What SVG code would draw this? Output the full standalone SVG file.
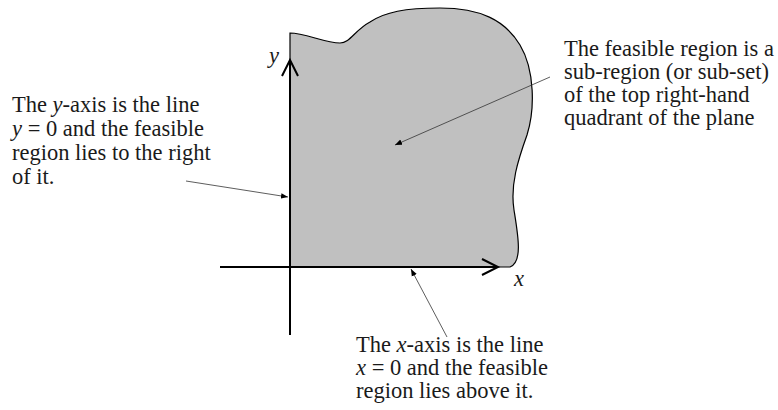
<svg xmlns="http://www.w3.org/2000/svg" width="778" height="410" viewBox="0 0 778 410">
<defs>
<style>
text{font-family:"Liberation Serif","Times New Roman",serif;font-size:22.5px;fill:#1a1a1a}
.i{font-style:italic}
.ax{stroke:#000;stroke-width:2;fill:none}
.ptr{stroke:#333;stroke-width:0.8;fill:none;marker-end:url(#ah)}
</style>
<marker id="ah" viewBox="0 0 10 10" refX="10" refY="5" markerWidth="7" markerHeight="7" markerUnits="userSpaceOnUse" orient="auto">
<path d="M0,1 L10,5 L0,9 Z" fill="#000"/>
</marker>
</defs>
<rect width="778" height="410" fill="#fff"/>
<g id="region">
<path d="M290,267 L290,33 C305,33 325,43 340,43 C350,43 355,30 370,22 C385,12 405,8 440,8 C480,8 505,20 520,45 C535,70 535,110 527,135 C518,160 510,185 514,210 C518,235 523,262 510,267 Z" fill="#c0c0c0" stroke="#000" stroke-width="1.2"/>
</g>
<g id="axes">
<path class="ax" d="M290,335 L290,60"/>
<path class="ax" d="M220,267 L497,267"/>
<path class="ax" d="M282,76 L290,60 L298,76"/>
<path class="ax" d="M482,259 L498,267 L482,275"/>
<text class="i" x="269" y="63">y</text>
<text class="i" x="514" y="286">x</text>
</g>
<g id="label-y">
<text x="12" y="112">The <tspan class="i">y</tspan>-axis is the line</text>
<text x="12" y="136"><tspan class="i">y</tspan> = 0 and the feasible</text>
<text x="12" y="160">region lies to the right</text>
<text x="12" y="184">of it.</text>
</g>
<g id="label-region">
<text x="564" y="56">The feasible region is a</text>
<text x="564" y="79">sub-region (or sub-set)</text>
<text x="564" y="102">of the top right-hand</text>
<text x="564" y="125">quadrant of the plane</text>
</g>
<g id="label-x">
<text x="356" y="352">The <tspan class="i">x</tspan>-axis is the line</text>
<text x="356" y="375"><tspan class="i">x</tspan> = 0 and the feasible</text>
<text x="356" y="398">region lies above it.</text>
</g>
<g id="connectors">
<path class="ptr" d="M186,181 L288,197"/>
<path class="ptr" d="M550,77 L395,145"/>
<path class="ptr" d="M447,337 L411,269"/>
</g>
</svg>
